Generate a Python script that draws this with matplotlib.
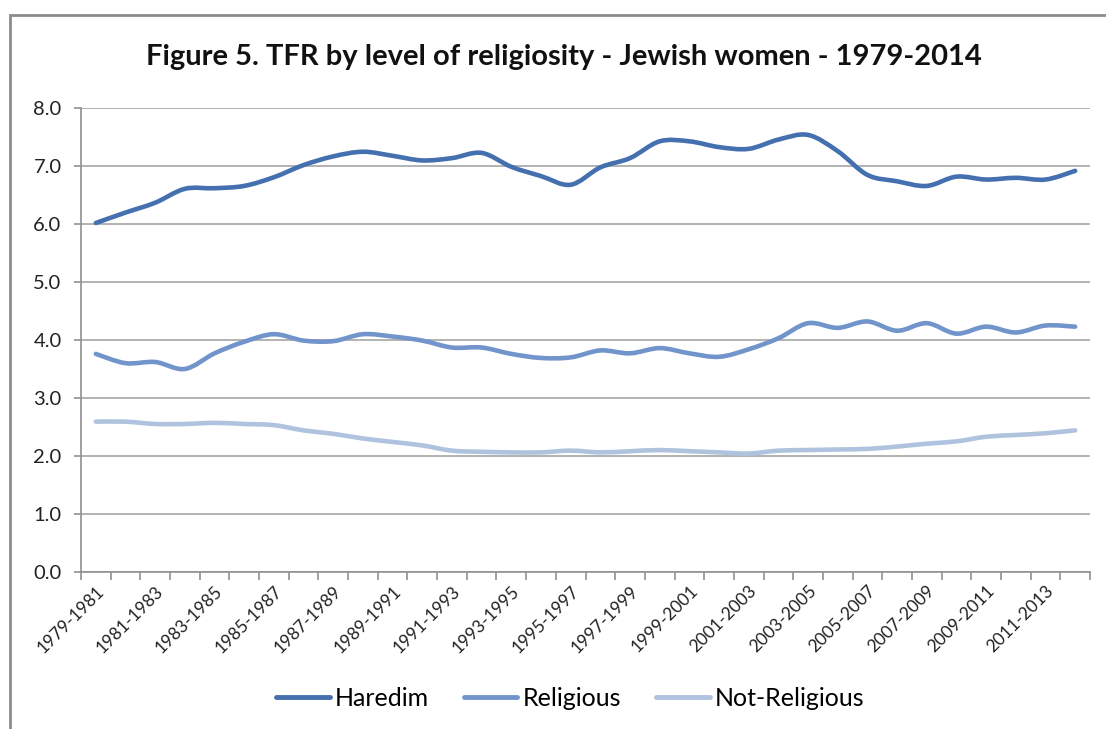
import numpy as np
import matplotlib
matplotlib.use('Agg')
from matplotlib import pyplot as plt
from matplotlib.path import Path
from matplotlib.patches import PathPatch, Rectangle
from matplotlib.lines import Line2D

plt.rcParams['font.family'] = ['Lato', 'DejaVu Sans']

# 3-year periods 1979-1981 ... 2012-2014
periods = [f'{y}-{y + 2}' for y in range(1979, 2013)]

haredim = [6.02, 6.20, 6.37, 6.61, 6.62, 6.66, 6.81, 7.02, 7.17, 7.25,
           7.18, 7.10, 7.14, 7.23, 6.99, 6.83, 6.68, 6.98, 7.14, 7.43,
           7.43, 7.33, 7.30, 7.46, 7.54, 7.26, 6.85, 6.74, 6.66, 6.82,
           6.77, 6.80, 6.77, 6.92]
religious = [3.76, 3.60, 3.62, 3.50, 3.77, 3.97, 4.10, 3.99, 3.98, 4.10,
             4.06, 3.99, 3.87, 3.87, 3.76, 3.69, 3.70, 3.82, 3.77, 3.86,
             3.77, 3.71, 3.84, 4.03, 4.29, 4.21, 4.32, 4.16, 4.29, 4.11,
             4.23, 4.13, 4.25, 4.23]
not_religious = [2.59, 2.59, 2.55, 2.55, 2.57, 2.55, 2.53, 2.44, 2.38, 2.30,
                 2.24, 2.18, 2.09, 2.07, 2.06, 2.06, 2.09, 2.06, 2.08, 2.10,
                 2.08, 2.06, 2.04, 2.09, 2.10, 2.11, 2.12, 2.16, 2.21, 2.25,
                 2.33, 2.36, 2.39, 2.44]

series = [('Haredim', haredim, '#4470AF'),
          ('Religious', religious, '#7195CB'),
          ('Not-Religious', not_religious, '#B0C3DE')]


def smooth_path(x, y):
    # Bezier segments through every point, tangents from the neighbours
    pts = np.column_stack([x, y]).astype(float)
    n = len(pts)
    verts = [pts[0]]
    codes = [Path.MOVETO]
    for i in range(n - 1):
        p0 = pts[max(i - 1, 0)]
        p1 = pts[i]
        p2 = pts[i + 1]
        p3 = pts[min(i + 2, n - 1)]
        c1 = p1 + (p2 - p0) / 6.0
        c2 = p2 - (p3 - p1) / 6.0
        verts += [c1, c2, p2]
        codes += [Path.CURVE4] * 3
    return Path(verts, codes)


fig = plt.figure(figsize=(11.06, 7.29), dpi=100)
ax = fig.add_axes([81 / 1106, 1 - 571.7 / 729, (1090 - 81) / 1106, (571.7 - 108.3) / 729])

x = np.arange(len(periods))
for name, vals, color in series:
    patch = PathPatch(smooth_path(x, vals), fill=False, edgecolor=color,
                      lw=3.3, capstyle='round', joinstyle='round', zorder=3)
    ax.add_patch(patch)

ax.set_xlim(-0.5, len(periods) - 0.5)
ax.set_ylim(0, 8)
ax.set_yticks(np.arange(0, 8.1, 1.0))
ax.set_yticklabels([f'{v:.1f}' for v in np.arange(0, 8.1, 1.0)], fontsize=14.5, color='#222222')
ax.yaxis.grid(True, color='#A6A6A6', lw=1.2)
ax.set_axisbelow(True)

# category labels every other period, tick marks between categories
ax.set_xticks(x[::2])
ax.set_xticklabels(periods[::2], rotation=45, ha='right', rotation_mode='anchor',
                   fontsize=12.5, color='#222222')
ax.tick_params(axis='x', length=0, pad=8)
ax.set_xticks(np.arange(-0.5, len(periods), 1.0), minor=True)
ax.tick_params(axis='x', which='minor', length=6, color='#909090', width=1.2)
ax.tick_params(axis='y', length=5, color='#909090', width=1.2, pad=9)

for side in ['top', 'right']:
    ax.spines[side].set_visible(False)
for side in ['left', 'bottom']:
    ax.spines[side].set_color('#909090')
    ax.spines[side].set_linewidth(1.2)

fig.text(564 / 1106, 1 - 57 / 729, 'Figure 5. TFR by level of religiosity - Jewish women - 1979-2014',
         ha='center', va='center', fontsize=21, fontweight='bold', color='#111111')

handles = [Line2D([], [], color=c, lw=3.5, solid_capstyle='round') for _, _, c in series]
fig.legend(handles, [s[0] for s in series], loc='center', bbox_to_anchor=(570 / 1106, 1 - 698 / 729),
           ncol=3, frameon=False, fontsize=18, handlelength=2.15, handletextpad=0.2,
           columnspacing=1.4)

# chart border
fig.patches.append(Rectangle((10 / 1106, -0.1), 1.2, 1 - 15 / 729 + 0.1, transform=fig.transFigure,
                             fill=False, edgecolor='#8C8C8C', lw=2))

fig.savefig('out.png', dpi=100)
